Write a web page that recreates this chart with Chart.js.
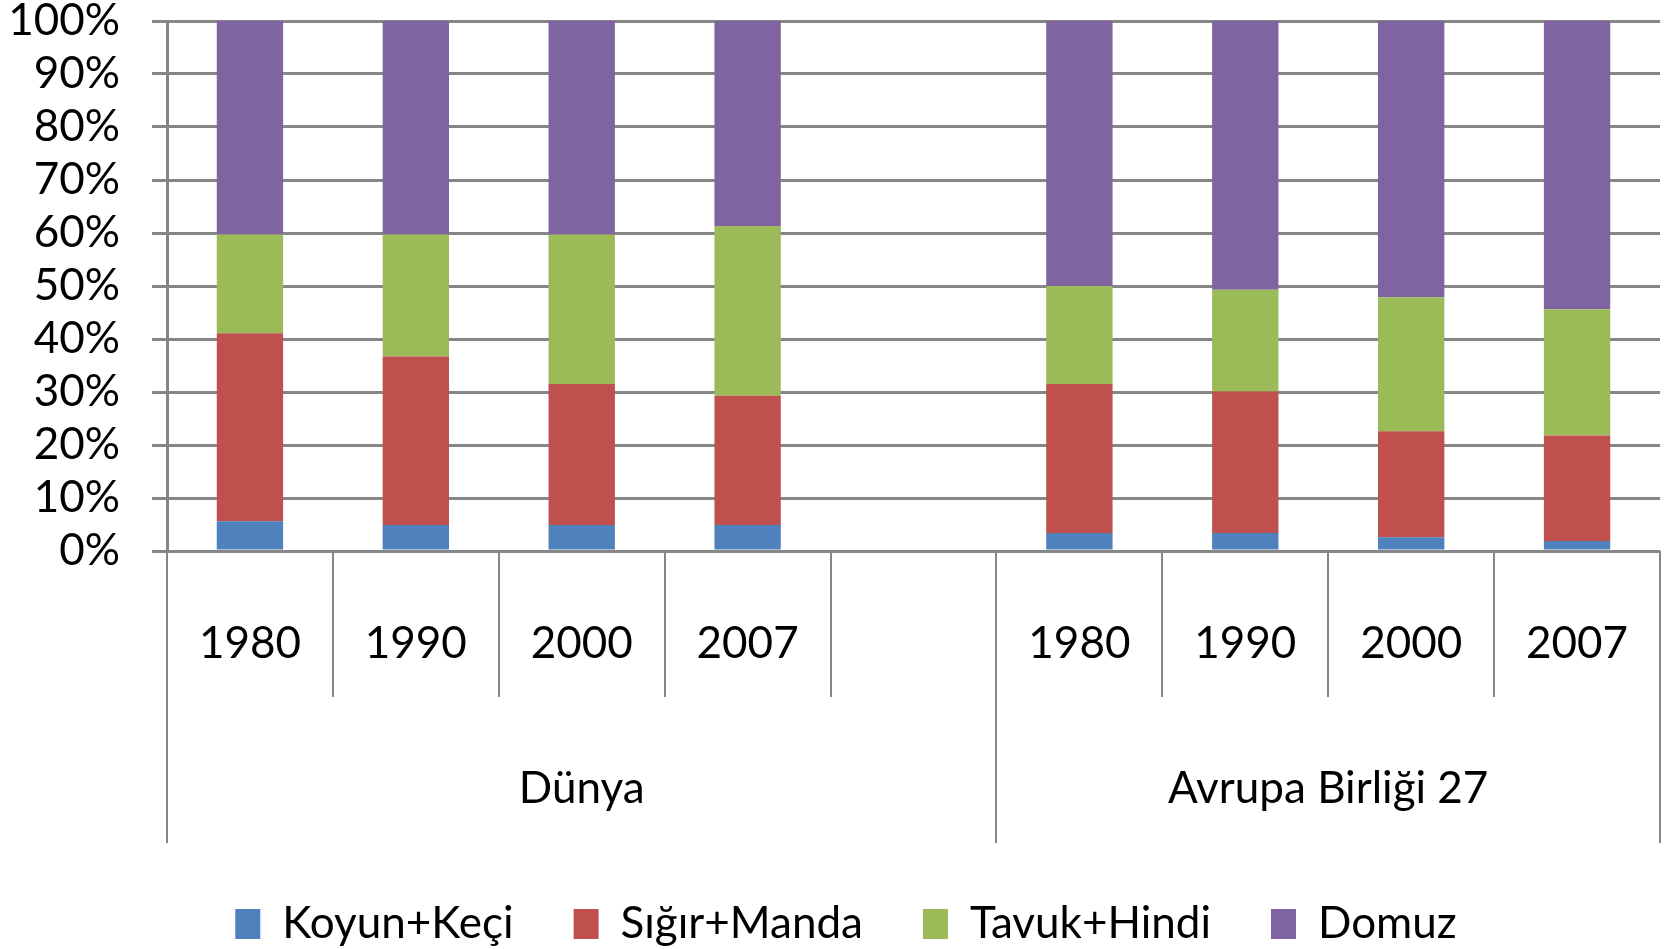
<!DOCTYPE html>
<html>
<head>
<meta charset="utf-8">
<script src="https://cdn.jsdelivr.net/npm/chart.js@4"></script>
<style>
  html, body { margin: 0; padding: 0; background: #fff; }
</style>
</head>
<body>
<canvas id="chart" width="1669" height="949"></canvas>
<script>
const YEARS = ['1980', '1990', '2000', '2007', '', '1980', '1990', '2000', '2007'];
const GROUPS = ['Dünya', 'Avrupa Birliği 27'];
const GROUP_SPANS = [[0, 4], [5, 8]];

const SERIES = ['Koyun+Keçi', 'Sığır+Manda', 'Tavuk+Hindi', 'Domuz'];
const KOYUN = [5.6, 4.9, 4.9, 4.9, null, 3.4, 3.4, 2.6, 1.9];
const SIGIR = [35.5, 31.8, 26.6, 24.4, null, 28.1, 26.7, 20.0, 19.9];
const TAVUK = [18.6, 23.0, 28.2, 32.0, null, 18.5, 19.2, 25.3, 23.8];
const DOMUZ = [40.3, 40.3, 40.3, 38.7, null, 50.0, 50.7, 52.1, 54.4];
const COLORS = ['#4F81BD', '#C0504D', '#9BBB59', '#8064A2'];

const Y_MAX = 100;
const Y_STEP = 10;

const FONT = 'Lato, "Liberation Sans", sans-serif';
const GRID = '#868686';
const LEGEND_SHIFT = 32;

// second row of the category axis: group names and the long separators
const groupAxis = {
  id: 'groupAxis',
  afterLayout(chart) {
    // legend sits a bit right of the canvas centre in the original
    if (chart.legend) chart.legend.left += LEGEND_SHIFT;
  },
  afterDraw(chart) {
    const x = chart.scales.x;
    const area = chart.chartArea;
    const ctx = chart.ctx;
    const step = x.getPixelForValue(1) - x.getPixelForValue(0);
    const lineEnd = area.bottom + 292;

    ctx.save();
    ctx.strokeStyle = GRID;
    ctx.lineWidth = 2;
    ctx.fillStyle = '#000';
    ctx.font = '44px ' + FONT;
    ctx.textAlign = 'center';
    ctx.textBaseline = 'middle';

    GROUP_SPANS.forEach(([a, b], i) => {
      const left = x.getPixelForValue(a) - step / 2;
      const right = x.getPixelForValue(b) + step / 2;
      for (const px of [left, right]) {
        ctx.beginPath();
        ctx.moveTo(Math.round(px), area.bottom);
        ctx.lineTo(Math.round(px), lineEnd);
        ctx.stroke();
      }
      ctx.fillText(GROUPS[i], (left + right) / 2, area.bottom + 238);
    });
    ctx.restore();
  }
};

const datasets = [KOYUN, SIGIR, TAVUK, DOMUZ].map((d, i) => ({
  label: SERIES[i],
  data: d,
  backgroundColor: COLORS[i],
  categoryPercentage: 1,
  barPercentage: 0.4
}));

new Chart(document.getElementById('chart'), {
  type: 'bar',
  data: { labels: YEARS, datasets: datasets },
  plugins: [groupAxis],
  options: {
    responsive: false,
    devicePixelRatio: 1,
    animation: false,
    layout: { padding: { top: 0, right: 9, left: 0, bottom: -7 } },
    plugins: {
      tooltip: { enabled: false },
      legend: {
        position: 'bottom',
        labels: {
          boxWidth: 25,
          boxHeight: 30,
          padding: 60,
          color: '#000',
          font: { family: FONT, size: 44 }
        }
      }
    },
    scales: {
      x: {
        stacked: true,
        grid: {
          offset: true,
          drawOnChartArea: false,
          tickLength: 146,
          color: GRID,
          lineWidth: 2
        },
        border: { display: false },
        ticks: {
          padding: -80,
          color: '#000',
          maxRotation: 0,
          autoSkip: false,
          font: { family: FONT, size: 44 }
        },
        afterFit(scale) { scale.height = 291; }
      },
      y: {
        stacked: true,
        min: 0,
        max: Y_MAX,
        grid: { color: GRID, lineWidth: 3, tickLength: 15 },
        border: { display: true, color: GRID, width: 3 },
        ticks: {
          stepSize: Y_STEP,
          autoSkip: false,
          padding: 32,
          color: '#000',
          font: { family: FONT, size: 44 },
          callback: v => v + '%'
        },
        afterFit(scale) {
          scale.width = 167;
          scale.paddingTop = 21;
          scale.paddingBottom = 0;
        }
      }
    }
  }
});
</script>
</body>
</html>
